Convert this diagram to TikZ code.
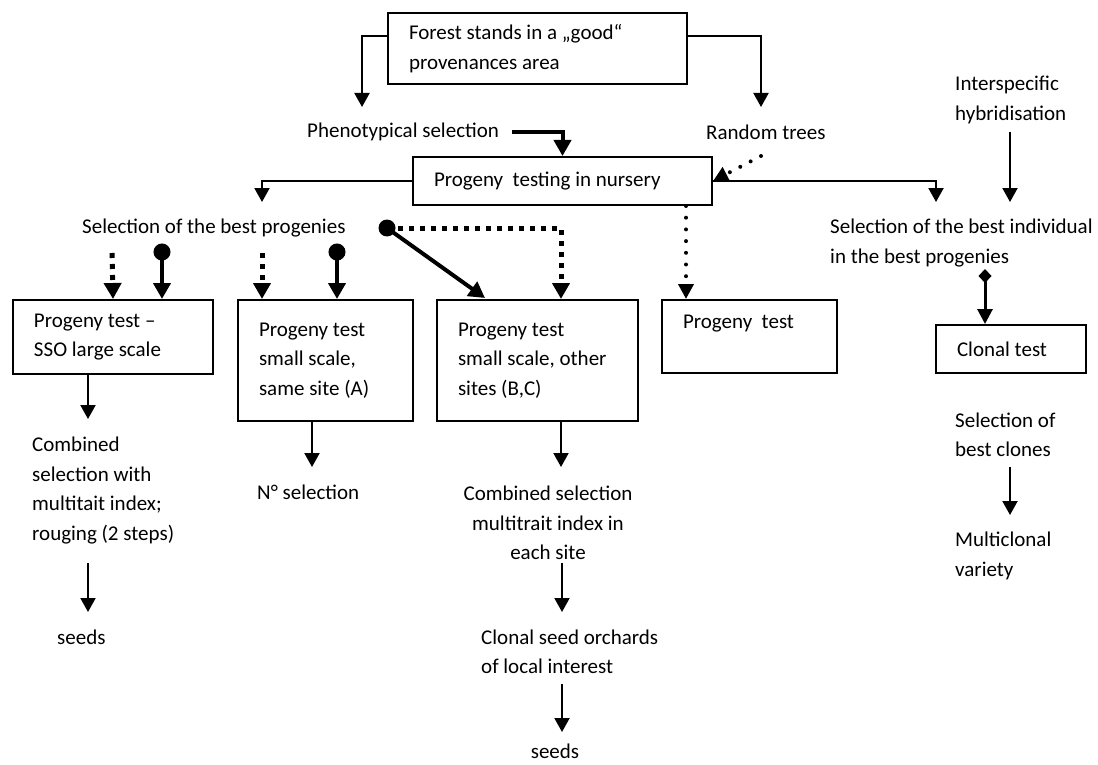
\documentclass[tikz,border=0pt]{standalone}
\usepackage{fontspec}
\setmainfont{Carlito}
\usetikzlibrary{arrows.meta}
\begin{document}
\begin{tikzpicture}[x=1pt, y=-1pt, font=\fontsize{21}{29.5}\selectfont,
	box/.style={draw, line width=2pt, anchor=north west, align=flush left, inner xsep=21pt, inner ysep=0pt,
		execute at begin node={\spaceskip=0pt\xspaceskip=0pt\relax}},
	txt/.style={anchor=west, align=left, inner sep=0pt},
	arr/.style={line width=2pt, -{Triangle[width=15pt,length=14pt]}},
	fat/.style={line width=4pt, -{Triangle[width=17pt,length=16pt]}},
	ball/.style={line width=4pt, {Circle[length=17pt]}-{Triangle[width=17pt,length=16pt]}},
	sq/.style={line width=5pt, dash pattern=on 5pt off 6pt, -{Triangle[width=17pt,length=16pt]}},
	rd/.style={line width=4pt, line cap=round, dash pattern=on 0pt off 11.7pt, -{Triangle[width=15pt,length=15pt]}},
	dia/.style={line width=3pt, {Diamond[width=13pt,length=14pt]}-{Triangle[width=15pt,length=15pt]}}]
			\useasboundingbox (0,0) rectangle (1098,765);
			\coordinate (fl) at (362,107);
			\coordinate (fr) at (761,107);
			\coordinate (tk) at (512,132);
			\coordinate (rt) at (761,156);
			\coordinate (sl) at (262,202);
			\coordinate (sr) at (936,202);
			\coordinate (h1) at (1010,132);
			\coordinate (h2) at (1010,202);
			\coordinate (dm) at (985,269);
			\coordinate (qa) at (112,253);
			\coordinate (ba) at (162,243.5);
			\coordinate (qb) at (262,253);
			\coordinate (bb) at (337,243.5);
			\coordinate (bl) at (387,228);
			\coordinate (qc) at (561,228);
			\coordinate (dg) at (485,298);
			\coordinate (nd) at (686,0);
			\coordinate (a2) at (88,419);
			\coordinate (a3) at (88,563);
			\coordinate (a4) at (88,612);
			\coordinate (b2) at (312,467);
			\coordinate (c2) at (561,467);
			\coordinate (c3) at (562,563);
			\coordinate (c4) at (562,612);
			\coordinate (c5) at (562,684);
			\coordinate (c6) at (562,732);
			\coordinate (m1) at (1010,467);
			\coordinate (m2) at (1010,515);
			\node[box, text width=257pt, minimum height=71pt] (forest) at (387,12) {Forest stands in a „good“\\provenances area};
			\node[box, text width=257pt, minimum height=48pt] (nursery) at (412,156) {Progeny\ \ testing in nursery};
			\node[box, text width=158pt, minimum height=74pt] (ptA) at (12,299) {Progeny test –\\SSO large scale};
			\node[box, text width=133pt, minimum height=121pt] (ptB) at (237,299) {Progeny test\\small scale,\\same site (A)};
			\node[box, text width=159pt, minimum height=121pt] (ptC) at (436,299) {Progeny test\\small scale, other\\sites (B,C)};
			\node[box, text width=133pt, minimum height=73pt] (ptD) at (661,299) {Progeny\ \ test\\\mbox{}};
			\node[box, text width=108pt, minimum height=48pt] (clonal) at (935,324) {Clonal test};
			\node[txt] (pheno) at (307,132) {Phenotypical selection};
			\node[txt] (random) at (706,132) {Random trees};
			\node[txt] (hybrid) at (955,100) {Interspecific\\hybridisation};
			\node[txt] (selprog) at (82,228) {Selection of the best progenies};
			\node[txt] (selind) at (830,243) {Selection of the best individual\\in the best progenies};
			\node[txt] (combA) at (32,490.5) {Combined\\selection with\\multitait index;\\rouging (2 steps)};
			\node[txt] (seedsA) at (57,637) {seeds};
			\node[txt] (nsel) at (257,492) {N° selection};
			\node[txt, anchor=center, align=center] (combC) at (548,523) {Combined selection\\multitrait index in\\each site};
			\node[txt] (orch) at (481,652) {Clonal seed orchards\\of local interest};
			\node[txt, anchor=center] (seedsC) at (555,751) {seeds};
			\node[txt] (clones) at (955,435) {Selection of\\best clones};
			\node[txt] (multi) at (955,556) {Multiclonal\\variety};
			\draw[arr] ([yshift=-24pt]forest.north west) -| (fl);
			\draw[arr] ([yshift=-24pt]forest.north east) -| (fr);
			\draw[fat] (tk) -| (nursery.north);
			\draw[rd] (rt) -- (nursery.east);
			\draw[arr] (nursery.west) -| (sl);
			\draw[arr] (nursery.east) -| (sr);
			\draw[arr] (h1) -- (h2);
			\draw[dia] (dm) -- (dm |- clonal.north);
			\draw[sq] (qa) -- (ptA.north);
			\draw[ball] (ba) -- (ba |- ptA.north);
			\draw[sq] (qb) -- (qb |- ptB.north);
			\draw[ball] (bb) -- (bb |- ptB.north);
			\fill (bl) circle (8.5pt);
			\draw[sq] (bl) -| (qc |- ptC.north);
			\draw[fat] (bl) -- (dg);
			\draw[rd] (nd |- nursery.south) -- (nd |- ptD.north);
			\draw[arr] (a2 |- ptA.south) -- (a2);
			\draw[arr] (a3) -- (a4);
			\draw[arr] (b2 |- ptB.south) -- (b2);
			\draw[arr] (c2 |- ptC.south) -- (c2);
			\draw[arr] (c3) -- (c4);
			\draw[arr] (c5) -- (c6);
			\draw[arr] (m1) -- (m2);
\end{tikzpicture}
\end{document}
